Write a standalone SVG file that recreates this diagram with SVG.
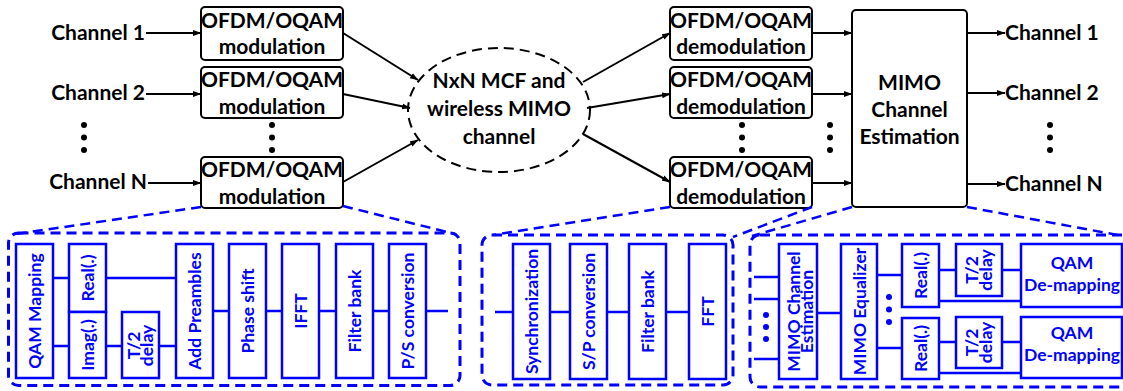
<svg xmlns="http://www.w3.org/2000/svg" width="1123" height="391" viewBox="0 0 1123 391">
  <defs>
    <marker id="arr" markerWidth="9" markerHeight="7" refX="8" refY="3.5" orient="auto" markerUnits="userSpaceOnUse">
      <path d="M0,0.5 L8.5,3.5 L0,6.5 z" fill="#000"/>
    </marker>
    <style>
      .lbl { font-family: Lato, "Liberation Sans", sans-serif; font-weight: bold; font-size: 21px; fill: #000; }
      .blk { fill: #fff; stroke: #000; stroke-width: 2; }
      .wire { stroke: #000; stroke-width: 2; fill: none; }
      .bt { font-family: Lato, "Liberation Sans", sans-serif; font-weight: bold; font-size: 17.5px; fill: #0000ff; }
      .bb { fill: #fff; stroke: #0000ff; stroke-width: 2.5; }
      .bw { stroke: #0000ff; stroke-width: 2.5; fill: none; }
      .panel { fill: none; stroke: #0000ff; stroke-width: 3; stroke-dasharray: 10 6; }
      .zoomline { stroke: #0000ff; stroke-width: 2.5; stroke-dasharray: 10 6; fill: none; }
      .dot { fill: #000; }
      .bdot { fill: #0000ff; }
    </style>
  </defs>

  <!-- transmitter inputs -->
  <g id="in-labels">
    <text class="lbl" x="145" y="40" text-anchor="end">Channel 1</text>
    <text class="lbl" x="145" y="100" text-anchor="end">Channel 2</text>
    <text class="lbl" x="147" y="189" text-anchor="end">Channel N</text>
    <circle class="dot" cx="84" cy="125" r="3"/>
    <circle class="dot" cx="84" cy="137.5" r="3"/>
    <circle class="dot" cx="84" cy="150" r="3"/>
  </g>

  <g id="mod1">
    <rect class="blk" x="201" y="7" width="142" height="53" rx="4"/>
    <text class="lbl" x="272" y="28" text-anchor="middle">OFDM/OQAM</text>
    <text class="lbl" x="272" y="54" text-anchor="middle">modulation</text>
  </g>
  <g id="mod2">
    <rect class="blk" x="201" y="67" width="142" height="51" rx="4"/>
    <text class="lbl" x="272" y="87" text-anchor="middle">OFDM/OQAM</text>
    <text class="lbl" x="272" y="114" text-anchor="middle">modulation</text>
  </g>
  <g id="modN">
    <rect class="blk" x="201" y="157" width="142" height="51" rx="4"/>
    <text class="lbl" x="272" y="177" text-anchor="middle">OFDM/OQAM</text>
    <text class="lbl" x="272" y="204" text-anchor="middle">modulation</text>
  </g>
  <g id="mod-dots">
    <circle class="dot" cx="272" cy="125" r="3"/>
    <circle class="dot" cx="272" cy="137.5" r="3"/>
    <circle class="dot" cx="272" cy="150" r="3"/>
  </g>

  <g id="channel">
    <ellipse cx="499" cy="110" rx="91" ry="62" fill="none" stroke="#000" stroke-width="2" stroke-dasharray="10 6"/>
    <text class="lbl" x="499" y="88" text-anchor="middle">NxN MCF and</text>
    <text class="lbl" x="499" y="116" text-anchor="middle">wireless MIMO</text>
    <text class="lbl" x="499" y="144" text-anchor="middle">channel</text>
  </g>

  <g id="demod1">
    <rect class="blk" x="670" y="7" width="142" height="53" rx="4"/>
    <text class="lbl" x="741" y="28" text-anchor="middle">OFDM/OQAM</text>
    <text class="lbl" x="741" y="54" text-anchor="middle">demodulation</text>
  </g>
  <g id="demod2">
    <rect class="blk" x="670" y="67" width="142" height="51" rx="4"/>
    <text class="lbl" x="741" y="87" text-anchor="middle">OFDM/OQAM</text>
    <text class="lbl" x="741" y="114" text-anchor="middle">demodulation</text>
  </g>
  <g id="demodN">
    <rect class="blk" x="670" y="157" width="142" height="51" rx="4"/>
    <text class="lbl" x="741" y="177" text-anchor="middle">OFDM/OQAM</text>
    <text class="lbl" x="741" y="204" text-anchor="middle">demodulation</text>
  </g>
  <g id="demod-dots">
    <circle class="dot" cx="742" cy="125" r="3"/>
    <circle class="dot" cx="742" cy="137.5" r="3"/>
    <circle class="dot" cx="742" cy="150" r="3"/>
    <circle class="dot" cx="830" cy="125" r="3"/>
    <circle class="dot" cx="830" cy="137.5" r="3"/>
    <circle class="dot" cx="830" cy="150" r="3"/>
  </g>

  <g id="mimo-est">
    <rect class="blk" x="852" y="10" width="115" height="197" rx="4"/>
    <text class="lbl" x="909.5" y="90" text-anchor="middle">MIMO</text>
    <text class="lbl" x="909.5" y="117" text-anchor="middle">Channel</text>
    <text class="lbl" x="909.5" y="144" text-anchor="middle">Estimation</text>
  </g>

  <g id="out-labels">
    <text class="lbl" x="1005" y="40">Channel 1</text>
    <text class="lbl" x="1005" y="100">Channel 2</text>
    <text class="lbl" x="1005" y="191">Channel N</text>
    <circle class="dot" cx="1050" cy="125" r="3"/>
    <circle class="dot" cx="1050" cy="137.5" r="3"/>
    <circle class="dot" cx="1050" cy="150" r="3"/>
  </g>

  <!-- top-level signal flow -->
  <g id="connectors">
    <line class="wire" x1="146" y1="33" x2="201" y2="33" marker-end="url(#arr)"/>
    <line class="wire" x1="146" y1="94" x2="201" y2="94" marker-end="url(#arr)"/>
    <line class="wire" x1="148" y1="183" x2="201" y2="183" marker-end="url(#arr)"/>
    <line class="wire" x1="343" y1="33" x2="418" y2="80" marker-end="url(#arr)"/>
    <line class="wire" x1="343" y1="94" x2="410" y2="108" marker-end="url(#arr)"/>
    <line class="wire" x1="343" y1="182" x2="418" y2="140" marker-end="url(#arr)"/>
    <line class="wire" x1="583" y1="82" x2="670" y2="33" marker-end="url(#arr)"/>
    <line class="wire" x1="587" y1="108" x2="670" y2="94" marker-end="url(#arr)"/>
    <line class="wire" x1="583" y1="134" x2="670" y2="182" marker-end="url(#arr)"/>
    <line class="wire" x1="812" y1="33" x2="852" y2="33" marker-end="url(#arr)"/>
    <line class="wire" x1="812" y1="94" x2="852" y2="94" marker-end="url(#arr)"/>
    <line class="wire" x1="812" y1="183" x2="852" y2="183" marker-end="url(#arr)"/>
    <line class="wire" x1="967" y1="33" x2="1005" y2="33" marker-end="url(#arr)"/>
    <line class="wire" x1="967" y1="93" x2="1005" y2="93" marker-end="url(#arr)"/>
    <line class="wire" x1="967" y1="184" x2="1005" y2="184" marker-end="url(#arr)"/>

    <!-- detail call-outs -->
    <line class="zoomline" x1="201" y1="207" x2="16" y2="234"/>
    <line class="zoomline" x1="343" y1="206" x2="455" y2="234"/>
    <line class="zoomline" x1="670" y1="207" x2="493" y2="235"/>
    <line class="zoomline" x1="812" y1="207" x2="733" y2="237"/>
    <line class="zoomline" x1="852" y1="207" x2="752" y2="236"/>
    <line class="zoomline" x1="967" y1="207" x2="1123" y2="236"/>
  </g>

  <!-- transmitter detail -->
  <g id="tx-detail">
    <rect class="panel" x="8.5" y="233" width="451.5" height="152.5" rx="10"/>
    <path class="bw" d="M53,278 H69 M53,346 H69 M106,278 H176 M106,346 H122 M159,346 H176 M213,311 H229 M266,311 H282 M319,311 H336 M373,311 H389 M426,311 H448"/>
    <rect class="bb" x="16" y="244" width="37" height="134"/>
    <text class="bt" transform="translate(34.5,311) rotate(-90)" text-anchor="middle" dominant-baseline="central">QAM Mapping</text>
    <rect class="bb" x="69" y="244" width="37" height="68"/>
    <text class="bt" transform="translate(87.5,278) rotate(-90)" text-anchor="middle" dominant-baseline="central">Real(.)</text>
    <rect class="bb" x="69" y="312" width="37" height="66"/>
    <text class="bt" transform="translate(87.5,345) rotate(-90)" text-anchor="middle" dominant-baseline="central">Imag(.)</text>
    <rect class="bb" x="122" y="312" width="37" height="66"/>
    <text class="bt" transform="translate(140.5,345.5) rotate(-90)" text-anchor="middle"><tspan x="0" y="-0.5">T/2</tspan><tspan x="0" y="12.5">delay</tspan></text>
    <rect class="bb" x="176" y="244" width="37" height="134"/>
    <text class="bt" transform="translate(194.5,311) rotate(-90)" text-anchor="middle" dominant-baseline="central">Add Preambles</text>
    <rect class="bb" x="229" y="244" width="37" height="134"/>
    <text class="bt" transform="translate(247.5,311) rotate(-90)" text-anchor="middle" dominant-baseline="central">Phase shift</text>
    <rect class="bb" x="282" y="244" width="37" height="134"/>
    <text class="bt" transform="translate(300.5,311) rotate(-90)" text-anchor="middle" dominant-baseline="central">IFFT</text>
    <rect class="bb" x="336" y="244" width="37" height="134"/>
    <text class="bt" transform="translate(354.5,311) rotate(-90)" text-anchor="middle" dominant-baseline="central">Filter bank</text>
    <rect class="bb" x="389" y="244" width="37" height="134"/>
    <text class="bt" transform="translate(407.5,311) rotate(-90)" text-anchor="middle" dominant-baseline="central">P/S conversion</text>
  </g>

  <!-- receiver front-end detail -->
  <g id="rx-detail">
    <rect class="panel" x="482" y="235" width="251" height="150" rx="10"/>
    <path class="bw" d="M495,312 H513 M550,312 H570 M607,312 H629 M666,312 H689"/>
    <rect class="bb" x="513" y="244" width="37" height="135"/>
    <text class="bt" transform="translate(531.5,311.5) rotate(-90)" text-anchor="middle" dominant-baseline="central">Synchronization</text>
    <rect class="bb" x="570" y="244" width="37" height="135"/>
    <text class="bt" transform="translate(588.5,311.5) rotate(-90)" text-anchor="middle" dominant-baseline="central">S/P conversion</text>
    <rect class="bb" x="629" y="244" width="37" height="135"/>
    <text class="bt" transform="translate(647.5,311.5) rotate(-90)" text-anchor="middle" dominant-baseline="central">Filter bank</text>
    <rect class="bb" x="689" y="244" width="37" height="135"/>
    <text class="bt" transform="translate(707.5,311.5) rotate(-90)" text-anchor="middle" dominant-baseline="central">FFT</text>
  </g>

  <!-- MIMO processing detail -->
  <g id="mimo-detail">
    <rect class="panel" x="750" y="235" width="390" height="152" rx="10"/>
    <path class="bw" d="M754,277 H779 M754,299 H779 M754,359 H779 M817,313 H841 M877,275 H902 M877,348 H902 M939,270 H956 M1002,270 H1021 M939,301 H1021 M939,342 H956 M1002,342 H1021 M939,373 H1021"/>
    <circle class="bdot" cx="766" cy="315" r="3"/>
    <circle class="bdot" cx="766" cy="327" r="3"/>
    <circle class="bdot" cx="766" cy="339" r="3"/>
    <circle class="bdot" cx="889" cy="297" r="3"/>
    <circle class="bdot" cx="889" cy="309.5" r="3"/>
    <circle class="bdot" cx="889" cy="322" r="3"/>
    <rect class="bb" x="779" y="244" width="38" height="135"/>
    <text class="bt" transform="translate(798,311.5) rotate(-90)" text-anchor="middle"><tspan x="0" y="1.5">MIMO Channel</tspan><tspan x="0" y="15">Estimation</tspan></text>
    <rect class="bb" x="841" y="244" width="36" height="135"/>
    <text class="bt" transform="translate(859,311.5) rotate(-90)" text-anchor="middle" dominant-baseline="central">MIMO Equalizer</text>
    <rect class="bb" x="902" y="244" width="37" height="63"/>
    <text class="bt" transform="translate(920.5,275.5) rotate(-90)" text-anchor="middle" dominant-baseline="central">Real(.)</text>
    <rect class="bb" x="902" y="318" width="37" height="61"/>
    <text class="bt" transform="translate(920.5,348.5) rotate(-90)" text-anchor="middle" dominant-baseline="central">Real(.)</text>
    <rect class="bb" x="956" y="244" width="46" height="52"/>
    <text class="bt" transform="translate(979,270) rotate(-90)" text-anchor="middle"><tspan x="0" y="-1">T/2</tspan><tspan x="0" y="13">delay</tspan></text>
    <rect class="bb" x="956" y="317" width="46" height="51"/>
    <text class="bt" transform="translate(979,342.5) rotate(-90)" text-anchor="middle"><tspan x="0" y="-1">T/2</tspan><tspan x="0" y="13">delay</tspan></text>
    <rect class="bb" x="1021" y="244" width="101" height="63"/>
    <text class="bt" x="1072" y="269" text-anchor="middle">QAM</text>
    <text class="bt" x="1072" y="290.5" text-anchor="middle">De-mapping</text>
    <rect class="bb" x="1021" y="317" width="101" height="61"/>
    <text class="bt" x="1072" y="339" text-anchor="middle">QAM</text>
    <text class="bt" x="1072" y="360.5" text-anchor="middle">De-mapping</text>
  </g>
</svg>
